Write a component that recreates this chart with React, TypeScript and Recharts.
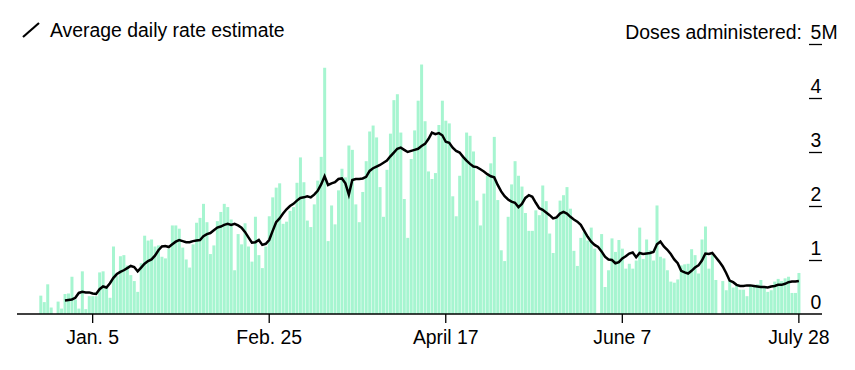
import React from 'react';
import { ComposedChart, Bar, Line, XAxis, YAxis, Customized } from 'recharts';

const FONT = '"Liberation Sans", Arial, sans-serif';
const FONT_SIZE = 19.4;
const BAR_COLOR = '#a6f5d0';

// first day of the series: Dec. 21, 2020
const START = Date.UTC(2020, 11, 21);

// daily doses administered, millions
const decDoses = [0.34, 0.22, 0.55, 0.12, 0, 0.23, 0.1, 0.37, 0.38, 0.69, 0.27];
const janDoses = [
	0.1, 0.79, 0.09, 0.33, 0.33, 0.33, 0.77, 0.79, 0.52, 0.3, 1.25, 0.7, 1.07, 1.09, 0.9, 0.72, 0.61, 0.41, 0.94, 1.45,
	1.36, 1.38, 1.25, 1.27, 1.06, 1.03, 1.21, 1.64, 1.64, 1.58, 1.23,
];
const febDoses = [
	1.01, 0.86, 1.29, 1.69, 1.78, 2.04, 1.7, 1.11, 1.27, 1.72, 1.89, 2.04, 1.98, 1.75, 0.81, 1.48, 1.29, 1.68, 1.25, 0.97,
	1.8, 1.09, 0.85, 1.25, 1.81, 2.16, 2.34, 2.42,
];
const marDoses = [
	1.67, 1.71, 1.91, 1.98, 2.43, 2.9, 2.44, 1.73, 1.61, 2.03, 2.47, 2.91, 4.56, 1.35, 2.01, 1.66, 2.29, 2.69, 2.53, 3.12,
	3.04, 2.03, 1.7, 2.26, 2.83, 3.38, 3.49, 3.27, 2.35, 1.8, 2.67,
];
const aprDoses = [
	3.34, 3.96, 4.07, 3.36, 2.13, 1.41, 2.87, 3.4, 3.95, 4.62, 3.57, 2.64, 2.5, 2.61, 3.5, 3.95, 3.58, 3.53, 2.18, 1.81,
	2.56, 2.9, 3.36, 3.3, 3.01, 2.1, 1.64, 2.23, 2.56, 2.79,
];
const mayDoses = [
	3.28, 2.11, 1.18, 0.98, 1.8, 2.4, 2.83, 2.56, 2.36, 1.87, 1.54, 1.54, 1.92, 1.83, 2.38, 2.09, 1.49, 1.13, 1.77, 2.1,
	2.2, 2.35, 1.95, 1.17, 0.89, 1.41, 1.52, 1.36, 1.6, 1.21, 0,
];
const junDoses = [
	1.48, 0.5, 0.81, 1.4, 1.15, 1.37, 1.21, 0.84, 0.93, 0.84, 0.99, 1.6, 1.02, 1.38, 1.18, 0.99, 2.01, 1.06, 1.03, 0.81,
	0.6, 0.58, 0.64, 0.9, 0.92, 0.93, 1.2, 1.09, 0.75, 1.38,
];
const julDoses = [
	1.62, 0.84, 1.1, 0.63, 0, 0.61, 0.44, 0.61, 0.49, 0.53, 0.45, 0.45, 0.33, 0.53, 0.52, 0.55, 0.63, 0.49, 0.41, 0.44,
	0.6, 0.65, 0.61, 0.66, 0.69, 0.39, 0.39, 0.76,
];

// average daily rate estimate, millions
const decAvg = [null, null, null, null, null, null, null, 0.25, 0.26, 0.27, 0.3];
const janAvg = [
	0.39, 0.41, 0.4, 0.4, 0.38, 0.37, 0.46, 0.51, 0.49, 0.57, 0.67, 0.74, 0.78, 0.81, 0.85, 0.89, 0.87, 0.79, 0.86, 0.93,
	0.98, 1.01, 1.08, 1.18, 1.25, 1.26, 1.24, 1.29, 1.34, 1.37, 1.35,
];
const febAvg = [
	1.33, 1.33, 1.35, 1.36, 1.37, 1.44, 1.48, 1.5, 1.55, 1.6, 1.62, 1.65, 1.67, 1.65, 1.67, 1.64, 1.6, 1.52, 1.42, 1.32,
	1.33, 1.37, 1.28, 1.3, 1.37, 1.54, 1.7, 1.77,
];
const marAvg = [
	1.86, 1.94, 2.0, 2.04, 2.1, 2.15, 2.16, 2.18, 2.16, 2.21, 2.28, 2.4, 2.55, 2.39, 2.42, 2.44, 2.5, 2.51, 2.42, 2.21,
	2.48, 2.5, 2.5, 2.51, 2.54, 2.65, 2.7, 2.73, 2.76, 2.8, 2.84,
];
const aprAvg = [
	2.92, 2.99, 3.06, 3.08, 3.04, 3.0, 3.02, 3.04, 3.06, 3.11, 3.15, 3.24, 3.36, 3.33, 3.35, 3.31, 3.19, 3.17, 3.08, 3.02,
	2.99, 2.91, 2.84, 2.78, 2.73, 2.72, 2.68, 2.64, 2.59, 2.55,
];
const mayAvg = [
	2.53, 2.39, 2.27, 2.18, 2.12, 2.08, 2.06, 1.98, 2.04, 2.15, 2.2, 2.17, 2.06, 1.96, 1.93, 1.88, 1.83, 1.77, 1.79, 1.86,
	1.89, 1.86, 1.8, 1.75, 1.71, 1.65, 1.54, 1.43, 1.34, 1.28, 1.24,
];
const junAvg = [
	1.16, 1.06, 1.01, 1.0, 0.94, 0.96, 1.03, 1.07, 1.12, 1.14, 1.05, 1.13, 1.11, 1.12, 1.13, 1.15, 1.29, 1.34, 1.25, 1.19,
	1.11, 1.01, 0.94, 0.8, 0.77, 0.75, 0.8, 0.86, 0.9, 0.99,
];
const julAvg = [
	1.12, 1.11, 1.13, 1.05, 0.97, 0.88, 0.76, 0.62, 0.59, 0.54, 0.52, 0.52, 0.53, 0.53, 0.52, 0.51, 0.5, 0.5, 0.49, 0.51,
	0.52, 0.54, 0.54, 0.56, 0.59, 0.6, 0.6, 0.61,
];

const tickDates = ['2021-01-05', '2021-02-25', '2021-04-17', '2021-06-07', '2021-07-28'];
const tickLabels = ['Jan. 5', 'Feb. 25', 'April 17', 'June 7', 'July 28'];
const yTicks = [0, 1, 2, 3, 4, 5];

const doses = [...decDoses, ...janDoses, ...febDoses, ...marDoses, ...aprDoses, ...mayDoses, ...junDoses, ...julDoses];
const avg = [...decAvg, ...janAvg, ...febAvg, ...marAvg, ...aprAvg, ...mayAvg, ...junAvg, ...julAvg];

const data = doses.map((v, i) => ({
	date: new Date(START + i * 86400000).toISOString().slice(0, 10),
	doses: v,
	avg: avg[i],
}));

const XTick = (props: any) => {
	const { x, y, payload } = props;
	const label = tickLabels[tickDates.indexOf(payload.value)];
	return (
		<text x={x} y={y + 21} textAnchor='middle' fontSize={FONT_SIZE} fontFamily={FONT} fill='#000'>
			{label}
		</text>
	);
};

const YTick = (props: any) => {
	const { x, y, payload } = props;
	const v = payload.value;
	return (
		<g>
			{v !== 0 && <line x1={x - 13} x2={x} y1={y + 0.5} y2={y + 0.5} stroke='#000' strokeWidth={1.3} />}
			<text x={x - 6} y={y - 5} textAnchor='middle' fontSize={FONT_SIZE} fontFamily={FONT} fill='#000'>
				{v}
			</text>
			{v === 5 && (
				<>
					<text x={x - 0.5} y={y - 5} fontSize={FONT_SIZE} fontFamily={FONT} fill='#000'>
						M
					</text>
					<text x={x - 20} y={y - 5} textAnchor='end' fontSize={FONT_SIZE} fontFamily={FONT} fill='#000'>
						Doses administered:
					</text>
				</>
			)}
		</g>
	);
};

const LegendKey = () => (
	<g>
		<line x1={23} y1={37} x2={39} y2={23} stroke='#000' strokeWidth={2.2} />
		<text x={50} y={37} fontSize={FONT_SIZE} fontFamily={FONT} fill='#000'>
			Average daily rate estimate
		</text>
	</g>
);

export default function App() {
	return (
		<div style={{ position: 'absolute', left: 0, top: 0, fontFamily: FONT }}>
			<ComposedChart width={855} height={370} data={data} margin={{ top: 44, right: 0, bottom: 0, left: 17 }} barCategoryGap={0.3}>
				<XAxis
					dataKey='date'
					ticks={tickDates}
					interval={0}
					height={56}
					padding={{ left: 22, right: 21.4 }}
					axisLine={{ stroke: '#000', strokeWidth: 1.3 }}
					tickLine={{ stroke: '#000', strokeWidth: 1.3 }}
					tickSize={9}
					tickMargin={0}
					tick={<XTick />}
				/>
				<YAxis
					orientation='right'
					domain={[0, 5]}
					ticks={yTicks}
					interval={0}
					width={33}
					axisLine={false}
					tickLine={false}
					tickSize={0}
					tickMargin={0}
					tick={<YTick />}
				/>
				<Bar dataKey='doses' fill={BAR_COLOR} isAnimationActive={false} />
				<Line type='linear' dataKey='avg' stroke='#000' strokeWidth={2.5} dot={false} isAnimationActive={false} />
				<Customized component={LegendKey} />
			</ComposedChart>
		</div>
	);
}
